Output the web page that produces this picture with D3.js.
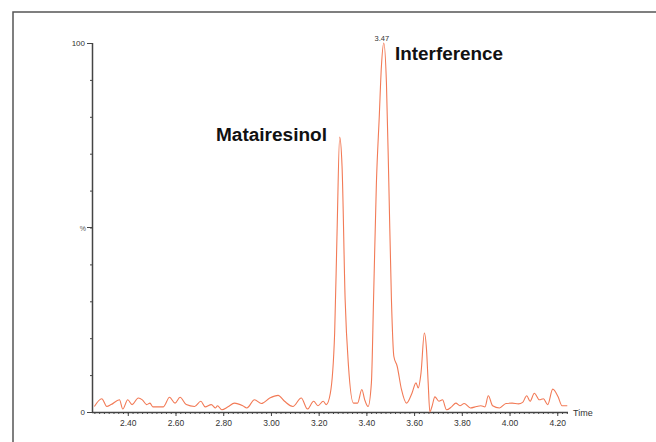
<!DOCTYPE html>
<html><head><meta charset="utf-8">
<script src="https://cdn.jsdelivr.net/npm/d3@7"></script>
<style>html,body{margin:0;padding:0;background:#fff;} svg{display:block;}</style>
</head><body>
<svg id="chart" width="656" height="442"></svg>
<script>
// Retention time (min)
const times = [2.260,2.291,2.312,2.330,2.365,2.379,2.400,2.418,2.444,2.461,2.479,2.493,2.505,2.549,2.575,2.598,2.619,2.645,2.680,2.706,2.724,2.750,2.768,2.776,2.794,2.820,2.847,2.882,2.899,2.931,2.960,2.995,3.030,3.057,3.092,3.127,3.153,3.179,3.197,3.219,3.232,3.249,3.267,3.277,3.288,3.298,3.311,3.325,3.346,3.363,3.381,3.393,3.407,3.421,3.430,3.442,3.454,3.463,3.473,3.484,3.494,3.505,3.515,3.529,3.547,3.568,3.591,3.608,3.617,3.629,3.643,3.652,3.659,3.666,3.675,3.687,3.704,3.719,3.736,3.757,3.775,3.792,3.810,3.836,3.862,3.880,3.897,3.911,3.929,3.958,3.985,4.011,4.037,4.055,4.072,4.086,4.104,4.125,4.142,4.160,4.181,4.203,4.220,4.242];
// Relative intensity (%)
const intensity = [1.5,3.6,1.5,2.0,3.3,0.8,3.3,2.0,3.8,3.3,2.0,2.4,1.4,1.4,4.0,2.4,4.0,2.0,1.5,2.9,1.4,2.0,1.1,1.7,0.6,1.4,2.4,1.7,1.1,3.3,2.3,3.8,4.5,2.9,1.5,3.8,0.8,2.9,1.7,2.9,2.0,5.1,21.4,48.5,74.5,66.6,30.4,12.4,2.4,2.4,6.1,3.3,1.5,7.9,30.4,62.1,80.1,93.7,100,89.2,62.1,30.4,15.1,12.4,6.1,2.4,5.1,7.9,6.5,10.6,21.4,16.9,7.9,0,1.5,4.1,2.9,3.3,0.6,1.4,2.4,1.7,2.3,1.1,1.5,1.7,1.4,4.4,1.7,1.1,2.3,2.4,2.2,2.6,4.4,2.9,5.1,3.3,3.6,2.0,6.2,4.2,1.7,1.7];
const xTickLabels = ["2.40","2.60","2.80","3.00","3.20","3.40","3.60","3.80","4.00","4.20"];
const yTickLabels = ["0","100"];
const peakLabels = ["Matairesinol","Interference"];
const peakTimeLabel = "3.47";

const svg = d3.select("#chart");
svg.append("rect").attr("x",13).attr("y",12).attr("width",700).attr("height",500)
  .attr("fill","#fff").attr("stroke","#555").attr("stroke-width",1.5);

const x = d3.scaleLinear().domain([2.25, 4.245]).range([92, 568]);
const y = d3.scaleLinear().domain([0, 100]).range([412, 43]);

const axisColor = "#444";
// X axis: minor ticks every 0.02
const minor = d3.range(2.26, 4.245, 0.02).map(v => +v.toFixed(2));
const xAxisMinor = d3.axisBottom(x).tickValues(minor).tickSize(2).tickFormat("");
const gxm = svg.append("g").attr("transform","translate(0,412)").call(xAxisMinor);
gxm.select(".domain").remove();
gxm.selectAll("line").attr("stroke",axisColor);

const xAxis = d3.axisBottom(x).tickValues(xTickLabels.map(Number)).tickSize(4).tickPadding(4)
  .tickFormat((d,i)=>xTickLabels[i]);
const gx = svg.append("g").attr("transform","translate(0,412)").call(xAxis);
gx.select(".domain").attr("d","M92,0.5H568").attr("stroke",axisColor).attr("stroke-width",1.5);
gx.selectAll("line").attr("stroke",axisColor);
gx.selectAll("text").attr("font-family","Liberation Sans, Arial, sans-serif").attr("font-size",8.5).attr("fill","#333");

svg.append("text").attr("x",573).attr("y",416).text("Time")
  .attr("font-family","Liberation Sans, Arial, sans-serif").attr("font-size",9).attr("fill","#333");

// Y axis
const yMinor = d3.axisLeft(y).tickValues(d3.range(0,101,10)).tickSize(2).tickFormat("");
const gym = svg.append("g").attr("transform","translate(92,0)").call(yMinor);
gym.select(".domain").remove();
gym.selectAll("line").attr("stroke",axisColor);

const yAxis = d3.axisLeft(y).tickValues(yTickLabels.map(Number)).tickSize(5).tickPadding(2)
  .tickFormat((d,i)=>yTickLabels[i]);
const gy = svg.append("g").attr("transform","translate(92,0)").call(yAxis);
gy.select(".domain").attr("d","M0.5,412V43").attr("stroke",axisColor).attr("stroke-width",1.5);
gy.selectAll("line").attr("stroke",axisColor);
gy.selectAll("text").attr("font-family","Liberation Sans, Arial, sans-serif").attr("font-size",8).attr("fill","#333");

svg.append("text").attr("x",86).attr("y",y(50)+3).attr("text-anchor","end").text("%")
  .attr("font-family","Liberation Sans, Arial, sans-serif").attr("font-size",7).attr("fill","#555");
svg.append("line").attr("x1",87).attr("x2",92).attr("y1",y(50)).attr("y2",y(50)).attr("stroke",axisColor);

// Trace
const data = times.map((t,i)=>({t, v:intensity[i]}));
const line = d3.line().x(d=>x(d.t)).y(d=>y(d.v)).curve(d3.curveMonotoneX);
svg.append("path").datum(data).attr("d",line).attr("fill","none")
  .attr("stroke","#f27a56").attr("stroke-width",1.1);

// Peak annotations
svg.append("text").attr("x",x(3.473)-2).attr("y",41).attr("text-anchor","middle").text(peakTimeLabel)
  .attr("font-family","Liberation Sans, Arial, sans-serif").attr("font-size",7.5).attr("fill","#333");
svg.append("text").attr("x",216).attr("y",141).text(peakLabels[0])
  .attr("font-family","Liberation Sans, Arial, sans-serif").attr("font-weight","bold").attr("font-size",17.5)
  .attr("textLength",111).attr("lengthAdjust","spacingAndGlyphs").attr("fill","#111");
svg.append("text").attr("x",395).attr("y",59.5).text(peakLabels[1])
  .attr("font-family","Liberation Sans, Arial, sans-serif").attr("font-weight","bold").attr("font-size",17.5)
  .attr("textLength",108).attr("lengthAdjust","spacingAndGlyphs").attr("fill","#111");
</script>
</body></html>
